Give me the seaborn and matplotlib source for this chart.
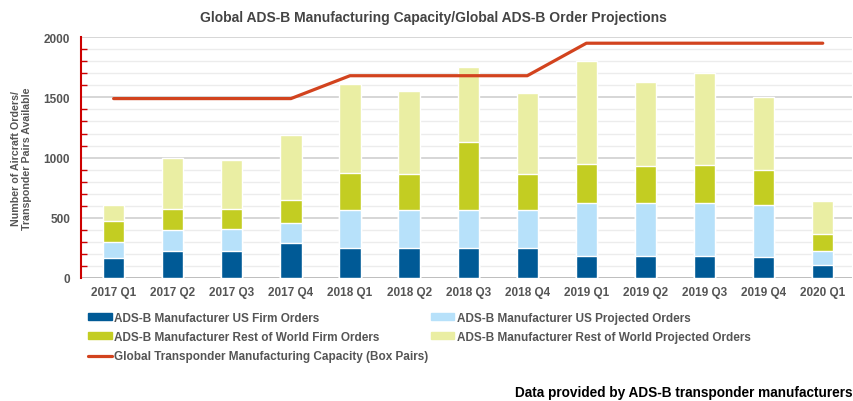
import numpy as np
import pandas as pd
import seaborn as sns
import matplotlib.pyplot as plt
from matplotlib.patches import Patch
from matplotlib.lines import Line2D
from matplotlib.ticker import MultipleLocator

# --- data ---
quarters = ["2017 Q1", "2017 Q2", "2017 Q3", "2017 Q4",
            "2018 Q1", "2018 Q2", "2018 Q3", "2018 Q4",
            "2019 Q1", "2019 Q2", "2019 Q3", "2019 Q4", "2020 Q1"]
us_firm = [165, 225, 225, 290, 250, 250, 250, 250, 185, 185, 185, 175, 110]
us_projected = [130, 172, 183, 170, 317, 317, 317, 317, 435, 435, 435, 435, 115]
row_firm = [175, 178, 167, 190, 308, 300, 563, 300, 330, 310, 320, 290, 140]
row_projected = [135, 425, 408, 535, 733, 690, 620, 666, 850, 700, 765, 600, 275]
capacity = [1490, 1490, 1490, 1490, 1680, 1680, 1680, 1680,
            1950, 1950, 1950, 1950, 1950]

labels = ["ADS-B Manufacturer US Firm Orders",
          "ADS-B Manufacturer US Projected Orders",
          "ADS-B Manufacturer Rest of World Firm Orders",
          "ADS-B Manufacturer Rest of World Projected Orders",
          "Global Transponder Manufacturing Capacity (Box Pairs)"]
colors = ["#005a96", "#b7e1fa", "#c3cd22", "#eaeea3"]
line_color = "#d2431e"
grey = "#555555"

df = pd.DataFrame({"quarter": quarters, "us_firm": us_firm, "us_proj": us_projected,
                   "row_firm": row_firm, "row_proj": row_projected})
# cumulative tops, drawn tallest first so the layers stack
df["t1"] = df["us_firm"]
df["t2"] = df["t1"] + df["us_proj"]
df["t3"] = df["t2"] + df["row_firm"]
df["t4"] = df["t3"] + df["row_proj"]

sns.set_theme(style="white")
plt.rcParams['font.family'] = ['Liberation Sans', 'DejaVu Sans']

fig = plt.figure(figsize=(8.54, 4.02), dpi=100)
ax = fig.add_axes([0.095, 0.306, 0.903, 0.599])

ax.yaxis.set_major_locator(MultipleLocator(500))
ax.yaxis.set_minor_locator(MultipleLocator(100))
ax.grid(which="major", axis="y", color="#cfcfcf", linewidth=1.2, zorder=0)
ax.grid(which="minor", axis="y", color="#ececec", linewidth=1.0, zorder=0)
ax.set_axisbelow(True)

for col, c in zip(["t4", "t3", "t2", "t1"], colors[::-1]):
    sns.barplot(data=df, x="quarter", y=col, color=c, width=0.36,
                saturation=1, ax=ax, zorder=2)

sns.lineplot(x=np.arange(len(quarters)), y=capacity, color=line_color,
             linewidth=2.3, ax=ax, zorder=3)

ax.set_xlim(-0.55, len(quarters) - 0.5)
ax.set_ylim(0, 2000)
ax.set_xlabel("")
ax.set_ylabel("Number of Aircraft Orders/\nTransponder Pairs Available",
              fontsize=7.7, fontweight="bold", color=grey, labelpad=8)
fig.text(0.507, 0.955,
         "Global ADS-B Manufacturing Capacity/Global ADS-B Order Projections",
         ha="center", va="center", fontsize=10, fontweight="bold", color="#444444")

for s in ["top", "right", "bottom"]:
    ax.spines[s].set_visible(False)
ax.spines["left"].set_color("#cc0000")
ax.spines["left"].set_linewidth(1.5)
ax.tick_params(axis="y", which="major", direction="inout", length=6, width=1.2,
               color="#cc0000", labelsize=8.5, labelcolor=grey, pad=5)
ax.tick_params(axis="y", which="minor", direction="in", length=4, width=1,
               color="#cc0000", left=True)
ax.tick_params(axis="x", length=0, labelsize=8.5, labelcolor=grey, pad=6)
for t in ax.get_xticklabels() + ax.get_yticklabels():
    t.set_fontweight("bold")
ax.axhline(0, color="#bbbbbb", linewidth=1.2, zorder=1)

handles = [Patch(color=colors[0]), Patch(color=colors[2]),
           Line2D([0], [0], color=line_color, linewidth=2.3),
           Patch(color=colors[1]), Patch(color=colors[3])]
hlabels = [labels[0], labels[2], labels[4], labels[1], labels[3]]
leg = fig.legend(handles, hlabels, ncol=2, loc="upper left",
                 bbox_to_anchor=(0.103, 0.222), frameon=False,
                 fontsize=8.5, handlelength=2.0, handleheight=0.55,
                 handletextpad=0.2, columnspacing=0.2, labelspacing=0.62,
                 borderaxespad=0, borderpad=0)
for t in leg.get_texts():
    t.set_fontweight("bold")
    t.set_color(grey)

fig.text(0.998, 0.005, "Data provided by ADS-B transponder manufacturers",
         ha="right", va="bottom", fontsize=9.8, fontweight="bold", color="black")

fig.savefig("out.png", dpi=100)
